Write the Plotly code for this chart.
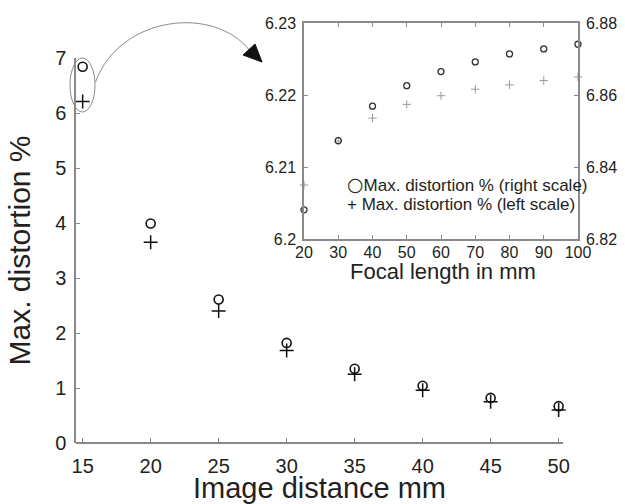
import plotly.graph_objects as go

# ---------------- data ----------------
image_distance = [15, 20, 25, 30, 35, 40, 45, 50]
dist_right_main = [6.84, 3.99, 2.61, 1.82, 1.35, 1.04, 0.82, 0.67]   # circles
dist_left_main = [6.21, 3.65, 2.40, 1.68, 1.25, 0.96, 0.75, 0.60]    # pluses

focal_length = [20, 30, 40, 50, 60, 70, 80, 90, 100]
dist_right_inset = [6.8281, 6.8473, 6.8569, 6.8626, 6.8665, 6.8692, 6.8714, 6.8728, 6.8741]
dist_left_inset = [6.2075, 6.2136, 6.2168, 6.2187, 6.2199, 6.2208, 6.2214, 6.2220, 6.2225]

main_xticks = [15, 20, 25, 30, 35, 40, 45, 50]
main_yticks = [0, 1, 2, 3, 4, 5, 6, 7]
inset_xticks = [20, 30, 40, 50, 60, 70, 80, 90, 100]
inset_left_ticks = [6.20, 6.21, 6.22, 6.23]
inset_left_text = ["6.2", "6.21", "6.22", "6.23"]
inset_right_ticks = [6.82, 6.84, 6.86, 6.88]
inset_right_text = ["6.82", "6.84", "6.86", "6.88"]

# ---------------- layout geometry ----------------
W, H = 625, 504
ML, MR, MT, MB = 76, 0, 0, 61
PW, PH = W - ML - MR, H - MT - MB


def px(x):
    return (x - ML) / PW


def py(y):
    return (H - MB - y) / PH


FONT = "Liberation Sans, Arial, Helvetica, sans-serif"
TXT = "#231f20"
AX = "#8a8a8a"

fig = go.Figure()

fig.add_trace(go.Scatter(
    x=image_distance, y=dist_right_main, mode="markers", xaxis="x", yaxis="y",
    marker=dict(symbol="circle-open", size=9, color="#111", line=dict(width=1.6, color="#111")),
    showlegend=False, cliponaxis=False))
fig.add_trace(go.Scatter(
    x=image_distance, y=dist_left_main, mode="markers", xaxis="x", yaxis="y",
    marker=dict(symbol="cross-thin", size=10, color="#111", line=dict(width=1.5, color="#111")),
    showlegend=False, cliponaxis=False))

fig.add_trace(go.Scatter(
    x=focal_length, y=dist_left_inset, mode="markers", xaxis="x2", yaxis="y2",
    marker=dict(symbol="cross-thin", size=6, color="#999", line=dict(width=1, color="#999")),
    showlegend=False, cliponaxis=False))
fig.add_trace(go.Scatter(
    x=focal_length, y=dist_right_inset, mode="markers", xaxis="x2", yaxis="y3",
    marker=dict(symbol="circle-open", size=6, color="#333", line=dict(width=1.3, color="#333")),
    showlegend=False, cliponaxis=False))

axis_common = dict(showline=True, linecolor=AX, linewidth=1.5, ticks="inside", ticklen=4,
                   tickcolor=AX, tickwidth=1, showgrid=False, zeroline=False)

fig.update_layout(
    width=W, height=H,
    margin=dict(l=ML, r=MR, t=MT, b=MB, autoexpand=False),
    paper_bgcolor="white", plot_bgcolor="rgba(0,0,0,0)",
    font=dict(family=FONT, color=TXT),
    xaxis=dict(**axis_common, domain=[0, px(563)], anchor="free", position=0,
               range=[14.51, 50.32], tickvals=main_xticks,
               tickfont=dict(size=20), ticklabelstandoff=5,
               title=dict(text="Image distance mm", font=dict(size=29), standoff=5)),
    yaxis=dict(**axis_common, domain=[0, py(58)], anchor="x",
               range=[0, 7], tickvals=main_yticks,
               tickfont=dict(size=20), ticklabelstandoff=4,
               title=dict(text="Max. distortion %", font=dict(size=30), standoff=16)),
    xaxis2=dict(**axis_common, domain=[px(304), px(578)], anchor="y2", mirror="ticks",
                range=[20, 100], tickvals=inset_xticks,
                tickfont=dict(size=16), ticklabelstandoff=-2),
    yaxis2=dict(**axis_common, domain=[py(239), py(23)], anchor="x2",
                range=[6.20, 6.23], tickvals=inset_left_ticks, ticktext=inset_left_text,
                tickfont=dict(size=16), ticklabelstandoff=3),
    yaxis3=dict(**axis_common, overlaying="y2", anchor="x2", side="right",
                range=[6.82, 6.88], tickvals=inset_right_ticks, ticktext=inset_right_text,
                tickfont=dict(size=16), ticklabelstandoff=3),
)

# inset x-axis title
fig.add_annotation(x=px(443), y=py(271), xref="paper", yref="paper", xanchor="center", yanchor="middle",
                   text="Focal length in mm", showarrow=False, font=dict(size=22, family=FONT, color=TXT))

# legend of the inset (as text)
fig.add_annotation(x=px(345), y=py(184), xref="paper", yref="paper", xanchor="left", yanchor="middle",
                   text="<span style='font-family:DejaVu Sans;font-size:19px'>○</span>Max. distortion % (right scale)",
                   showarrow=False, font=dict(size=17, family=FONT, color=TXT))
fig.add_annotation(x=px(345), y=py(204), xref="paper", yref="paper", xanchor="left", yanchor="middle",
                   text="+ Max. distortion % (left scale)", showarrow=False,
                   font=dict(size=17, family=FONT, color=TXT))

# ellipse around the x=15 points and curved arrow to the inset
fig.add_shape(type="circle", xref="paper", yref="paper",
              x0=px(70), x1=px(95), y0=py(112), y1=py(58),
              line=dict(color="#8c8c8c", width=1))


def P(x, y):
    return f"{px(x):.5f},{py(y):.5f}"


fig.add_shape(type="path", xref="paper", yref="paper",
              path=f"M {P(95.5, 82)} C {P(120, 15)} {P(215, 5)} {P(250, 51)}",
              line=dict(color="#8c8c8c", width=1))
fig.add_shape(type="path", xref="paper", yref="paper",
              path=f"M {P(262, 62)} L {P(243, 55)} L {P(255, 44)} Z",
              fillcolor="#111", line=dict(color="#111", width=1))

fig.write_html("out.html", config={"displayModeBar": False},
               post_script="document.body.style.margin='0';document.body.style.padding='0';")
